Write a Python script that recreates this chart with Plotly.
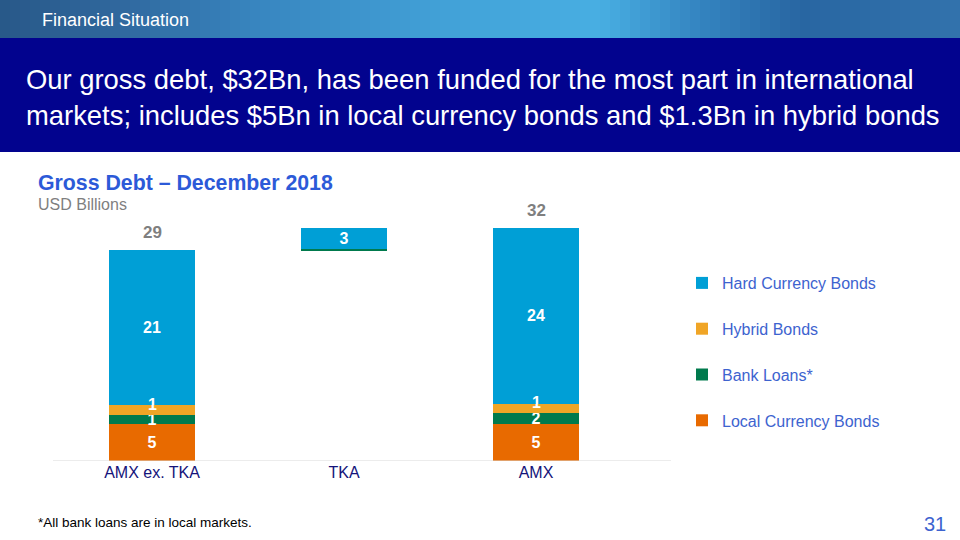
import plotly.graph_objects as go

# ---------------- data ----------------
categories = ["AMX ex. TKA", "TKA", "AMX"]
local_currency = [5.0, 0.0, 5.0]
bank_loans = [1.3, 0.15, 1.5]
hybrid_bonds = [1.3, 0.0, 1.3]
hard_currency = [21.2, 2.9, 24.1]

series_names = ["Local Currency Bonds", "Bank Loans*", "Hybrid Bonds", "Hard Currency Bonds"]
series_values = [local_currency, bank_loans, hybrid_bonds, hard_currency]
series_colors = ["#E86A00", "#007A4D", "#F0A526", "#009FD6"]
legend_ranks = [4, 3, 2, 1]

totals = [sum(v[i] for v in series_values) for i in range(3)]
# TKA floats on top of AMX ex. TKA (waterfall step)
float_base = [0.0, totals[0], 0.0]

W, H = 960, 540
x0_px, x1_px = 53, 671
y_bot_px, y_top_px = 461, 210
px_per_unit = 7.31
label_font = dict(family="Liberation Sans, Arial", size=16, color="white", weight="bold")

fig = go.Figure()

fig.add_trace(go.Bar(
    x=categories, y=float_base, marker=dict(color="rgba(0,0,0,0)", line=dict(width=0)),
    showlegend=False, hoverinfo="skip", width=0.443,
))

for name, vals, col, rk in zip(series_names, series_values, series_colors, legend_ranks):
    if name == "Hybrid Bonds":
        txt = ["" for v in vals]  # labelled by annotations, nudged up like the original
    else:
        txt = [f"{v:.0f}" if v >= 0.5 else "" for v in vals]
    fig.add_trace(go.Bar(
        x=categories, y=vals, name=name, legendgroup=name, legendrank=rk,
        marker=dict(color=col, line=dict(width=0)), width=0.443,
        text=txt, textposition="inside", insidetextanchor="middle",
        constraintext="none", textangle=0, textfont=label_font,
    ))

shapes = []
# header gradient band
stops = [(0, (40, 88, 136)), (120, (48, 104, 158)), (260, (56, 134, 192)),
         (450, (66, 162, 216)), (600, (72, 174, 226)), (700, (52, 132, 192)),
         (800, (40, 102, 162)), (960, (50, 114, 172))]
n = 96
for i in range(n):
    xa = i * W / n
    xb = (i + 1) * W / n
    xm = (xa + xb) / 2
    for j in range(len(stops) - 1):
        if stops[j][0] <= xm <= stops[j + 1][0]:
            t = (xm - stops[j][0]) / (stops[j + 1][0] - stops[j][0])
            c = [round(stops[j][1][k] + t * (stops[j + 1][1][k] - stops[j][1][k])) for k in range(3)]
            break
    shapes.append(dict(type="rect", xref="paper", yref="paper",
                       x0=xa / W, x1=xb / W + 0.001, y0=1 - 38 / H, y1=1,
                       fillcolor=f"rgb({c[0]},{c[1]},{c[2]})", line_width=0, layer="below"))
# dark title band
shapes.append(dict(type="rect", xref="paper", yref="paper", x0=0, x1=1,
                   y0=1 - 152 / H, y1=1 - 38 / H, fillcolor="#02038E", line_width=0, layer="below"))
# baseline
shapes.append(dict(type="line", xref="paper", yref="y", x0=x0_px / W, x1=x1_px / W,
                   y0=0, y1=0, line=dict(color="#D9D9D9", width=1.2)))

annotations = [
    dict(text="Financial Situation", x=40 / W, y=1 - 20 / H, xref="paper", yref="paper",
         xanchor="left", yanchor="middle", showarrow=False,
         font=dict(family="Liberation Sans, Arial", size=18, color="white")),
    dict(text="Our gross debt, $32Bn, has been funded for the most part in international<br>"
              "markets; includes $5Bn in local currency bonds and $1.3Bn in hybrid bonds",
         x=24 / W, y=1 - 98 / H, xref="paper", yref="paper", xanchor="left", yanchor="middle",
         align="left", showarrow=False,
         font=dict(family="Liberation Sans, Arial", size=27.4, color="white")),
    dict(text="<b>Gross Debt – December 2018</b>", x=36 / W, y=1 - 183 / H, xref="paper",
         yref="paper", xanchor="left", yanchor="middle", showarrow=False,
         font=dict(family="Liberation Sans, Arial", size=21.3, color="#2C5AD8")),
    dict(text="USD Billions", x=36 / W, y=1 - 204 / H, xref="paper", yref="paper",
         xanchor="left", yanchor="middle", showarrow=False,
         font=dict(family="Liberation Sans, Arial", size=16, color="#7F7F7F")),
    dict(text="*All bank loans are in local markets.", x=36 / W, y=1 - 522 / H, xref="paper",
         yref="paper", xanchor="left", yanchor="middle", showarrow=False,
         font=dict(family="Liberation Sans, Arial", size=13.5, color="black")),
    dict(text="31", x=948 / W, y=1 - 524 / H, xref="paper", yref="paper",
         xanchor="right", yanchor="middle", showarrow=False,
         font=dict(family="Liberation Sans, Arial", size=20, color="#3D63CF")),
]
for i, cat in enumerate(categories):
    if cat != "TKA":
        annotations.append(dict(text=f"<b>{totals[i]:.0f}</b>", x=cat, y=totals[i], xref="x",
                                yref="y", yanchor="bottom", yshift=6, showarrow=False,
                                font=dict(family="Liberation Sans, Arial", size=17, color="#7F7F7F")))
    if hybrid_bonds[i] >= 0.5:
        mid = local_currency[i] + bank_loans[i] + hybrid_bonds[i] / 2
        annotations.append(dict(text=f"{hybrid_bonds[i]:.0f}", x=cat, y=mid, xref="x", yref="y",
                                yanchor="middle", yshift=6, showarrow=False, font=label_font))

x_lo = -(152 - x0_px) / 192
x_hi = 2 + (x1_px - 536) / 192
y_hi = (y_bot_px - y_top_px) / px_per_unit

fig.update_layout(
    width=W, height=H, barmode="stack",
    margin=dict(l=0, r=0, t=0, b=0),
    paper_bgcolor="white", plot_bgcolor="white",
    shapes=shapes, annotations=annotations,
    xaxis=dict(domain=[x0_px / W, x1_px / W], range=[x_lo, x_hi], showgrid=False,
               showline=False, zeroline=False, ticks="",
               tickfont=dict(family="Liberation Sans, Arial", size=16, color="#14137A")),
    yaxis=dict(domain=[1 - y_bot_px / H, 1 - y_top_px / H], range=[0, y_hi], visible=False),
    legend=dict(x=682 / W, y=1 - 266 / H, xanchor="left", yanchor="top",
                traceorder="grouped", tracegroupgap=22, itemwidth=30,
                font=dict(family="Liberation Sans, Arial", size=16, color="#3D63CF"),
                bgcolor="rgba(0,0,0,0)"),
    font=dict(family="Liberation Sans, Arial"),
)

fig.write_html("out.html", config={"displayModeBar": False},
               post_script="document.body.style.margin='0';document.body.style.overflow='hidden';")
